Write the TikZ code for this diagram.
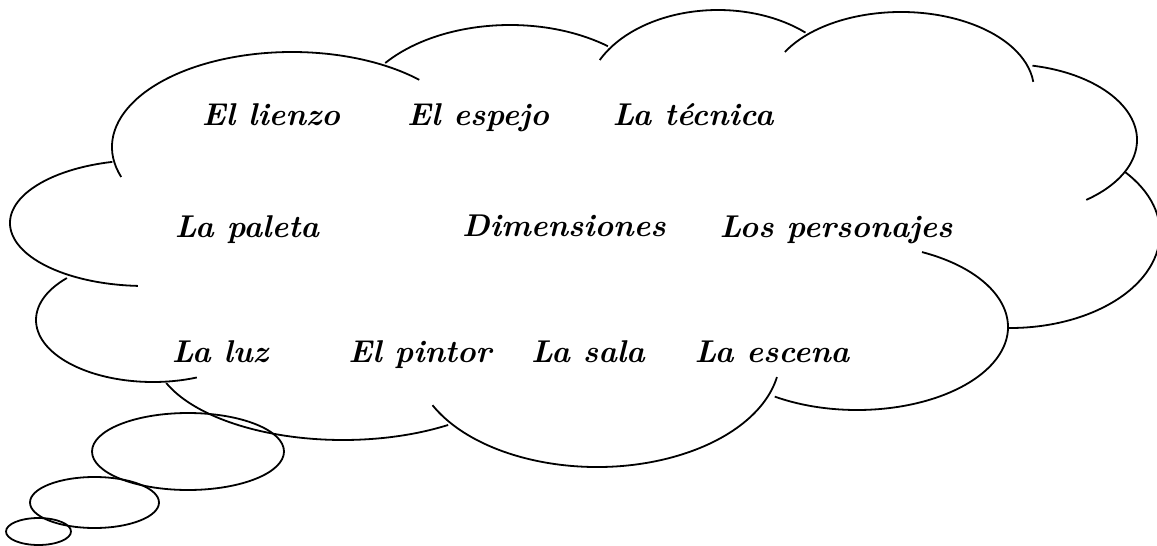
\documentclass[tikz,border=0pt]{standalone}
\usepackage{fontspec}
\begin{document}
\begin{tikzpicture}[x=1pt,y=1pt,
  cloudline/.style={line width=1.8pt, black},
  lbl/.style={font=\fontsize{31.5}{36}\selectfont\bfseries\itshape, anchor=base, inner sep=0pt}]
\useasboundingbox (0,0) rectangle (1157,-546);
% cloud lobes: center (cx,cy) in image px, radii, angles
\newcommand{\lobe}[6]{\draw[cloudline] (#1,-#2) ++(#5:#3 and #4) arc[start angle=#5, end angle=#6, x radius=#3, y radius=#4];}
\lobe{292}{147}{180}{95}{198.4}{45}
\lobe{510}{125}{159}{100}{141.7}{52}
\lobe{718}{100}{132}{90}{153.6}{48.5}
\lobe{901}{90}{133}{78}{150.8}{6}
\lobe{1005}{140}{132}{76}{78}{-52}
\lobe{1010}{233}{150}{95}{40}{-91}
\lobe{857}{327}{151}{83}{64.5}{-123}
\lobe{597}{357}{183}{110}{206}{349.5}
\lobe{343}{350}{190}{90}{201.5}{303.6}
\lobe{153}{320}{117}{62}{137.4}{292}
\lobe{145}{223}{135}{63}{104}{267}
% thought bubbles
\draw[cloudline] (188,-451.5) ellipse[x radius=96, y radius=38.5];
\draw[cloudline] (94.5,-502.5) ellipse[x radius=64.5, y radius=25.5];
\draw[cloudline] (38.5,-531.5) ellipse[x radius=32.5, y radius=13.5];
% labels
\node[lbl] (lienzo) at (271,-125) {El lienzo};
\node[lbl] (espejo) at (478,-125) {El espejo};
\node[lbl] (tecnica) at (693,-125) {La técnica};
\node[lbl] (paleta) at (247,-237) {La paleta};
\node[lbl] (dim) at (564,-236) {Dimensiones};
\node[lbl] (pers) at (836,-237) {Los personajes};
\node[lbl] (luz) at (220,-362) {La luz};
\node[lbl] (pintor) at (420,-362) {El pintor};
\node[lbl] (sala) at (588,-362) {La sala};
\node[lbl] (escena) at (772,-362) {La escena};
\end{tikzpicture}
\end{document}
